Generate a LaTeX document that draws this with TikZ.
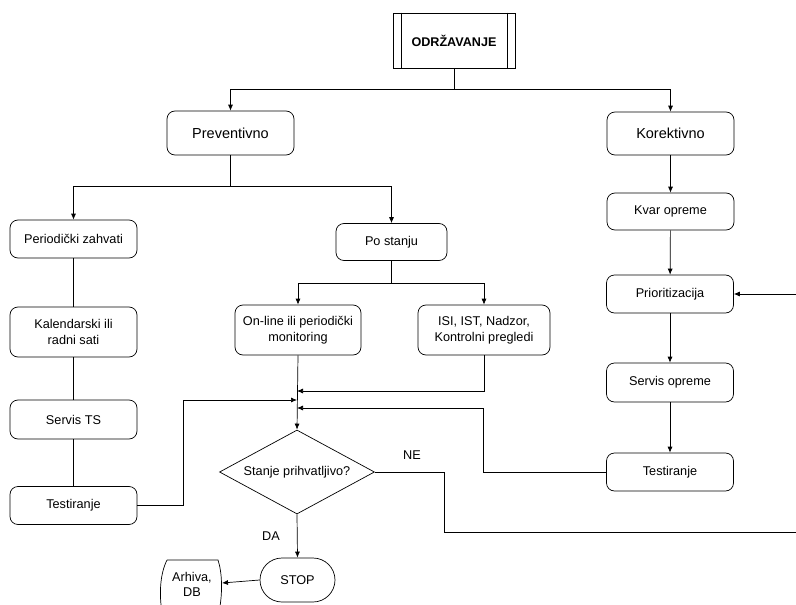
\documentclass[tikz,border=0pt]{standalone}
\usepackage{fontspec}
\setmainfont{Liberation Sans}
\usetikzlibrary{arrows.meta,shapes.geometric}
\begin{document}
\begin{tikzpicture}[x=1pt,y=-1pt,line width=0.7pt,
  box/.style={draw,rounded corners=8pt,align=center,inner sep=1pt,font=\fontsize{12.7}{15.5}\selectfont},
  bigbox/.style={box,font=\fontsize{14.5}{17}\selectfont},
  arr/.style={-{Latex[length=6pt,width=5pt]}},
  lbl/.style={font=\fontsize{12.7}{15}\selectfont}]
\useasboundingbox (0,0) rectangle (796,605);
% top
\node[draw,minimum width=122pt,minimum height=55pt,inner sep=0pt,font=\fontsize{12.6}{15}\selectfont\bfseries] (odr) at (454,40.5) {ODRŽAVANJE};
\draw ([xshift=9pt]odr.north west) -- ([xshift=9pt]odr.south west);
\draw ([xshift=-8pt]odr.north east) -- ([xshift=-8pt]odr.south east);
\node[bigbox,minimum width=127pt,minimum height=44pt] (prev) at (230.5,133) {Preventivno};
\node[bigbox,minimum width=127pt,minimum height=43pt] (kor) at (670.5,133.5) {Korektivno};
% left column
\node[box,minimum width=127pt,minimum height=38pt] (per) at (73.5,239) {Periodički zahvati};
\node[box,minimum width=127pt,minimum height=50pt] (kal) at (73.5,332) {Kalendarski ili\\radni sati};
\node[box,minimum width=127pt,minimum height=39pt] (sts) at (73.5,419.5) {Servis TS};
\node[box,minimum width=127pt,minimum height=38pt] (testL) at (73.5,505.5) {Testiranje};
% middle
\node[box,minimum width=111pt,minimum height=37pt] (pos) at (391.5,242) {Po stanju};
\node[box,minimum width=126pt,minimum height=50pt] (onl) at (298,330) {On-line ili periodički\\monitoring};
\node[box,minimum width=132pt,minimum height=50pt] (isi) at (484,330) {ISI, IST, Nadzor,\\Kontrolni pregledi};
\node[draw,diamond,minimum width=155pt,minimum height=84pt,inner sep=0pt,aspect=1.85,font=\fontsize{12.7}{15}\selectfont] (dec) at (297,472) {Stanje prihvatljivo?};
\node[draw,rounded corners=22pt,minimum width=75pt,minimum height=44pt,inner sep=0pt,font=\fontsize{12.7}{15}\selectfont] (stop) at (297.5,580) {STOP};
% archive
\draw (167,560) -- (218,560) .. controls (222,572) and (223,592) .. (219,612);
\draw (167,560) .. controls (160,574) and (159,594) .. (162,612);
\node[lbl,align=center,inner sep=0pt] (arh) at (192,584) {Arhiva,\\DB};
\coordinate (arhR) at (222,583);
% right column
\node[box,minimum width=127pt,minimum height=37pt] (kvar) at (670.5,211.5) {Kvar opreme};
\node[box,minimum width=127pt,minimum height=38pt] (prio) at (670,294) {Prioritizacija};
\node[box,minimum width=127pt,minimum height=39pt] (sop) at (670,382.5) {Servis opreme};
\node[box,minimum width=127pt,minimum height=38pt] (testR) at (670,472) {Testiranje};
% junctions
\coordinate (j1) at (454,89);
\coordinate (j2) at (230.5,186);
\coordinate (j3) at (391.5,283);
\coordinate (c1) at (183,505.5);
\coordinate (t1) at (297,400);
\coordinate (t2) at (297,391);
\coordinate (c3) at (483,408);
\coordinate (t3) at (297,408);
\coordinate (n1) at (444,472);
\coordinate (n2) at (444,532);
\coordinate (n3) at (812,532);
\coordinate (n4) at (812,294);
% connectors
\draw (odr.south) -- (j1);
\draw[arr] (j1) -| (prev.north);
\draw[arr] (j1) -| (kor.north);
\draw (prev.south) -- (j2);
\draw[arr] (j2) -| (per.north);
\draw[arr] (j2) -| (pos.north);
\draw (per) -- (kal);
\draw (kal) -- (sts);
\draw (sts) -- (testL);
\draw[arr] (testL.east) -- (c1) |- (t1);
\draw (pos.south) -- (j3);
\draw[arr] (j3) -| (onl.north);
\draw[arr] (j3) -| (isi.north);
\draw[arr] (onl.south) -- (dec.north);
\draw[arr] (isi.south) |- (t2);
\draw[arr] (testR.west) -| (c3) -- (t3);
\draw[arr] (dec.east) -- (n1) -- (n2) -- (n3) -- (n4) -- (prio.east);
\draw[arr] (dec.south) -- (stop.north);
\draw[arr] (stop.west) -- (arhR);
\draw[arr] (kor) -- (kvar);
\draw[arr] (kvar) -- (prio);
\draw[arr] (prio) -- (sop);
\draw[arr] (sop) -- (testR);
% labels
\node[lbl] (ne) at (412,455) {NE};
\node[lbl] (da) at (271,536) {DA};
\end{tikzpicture}
\end{document}
